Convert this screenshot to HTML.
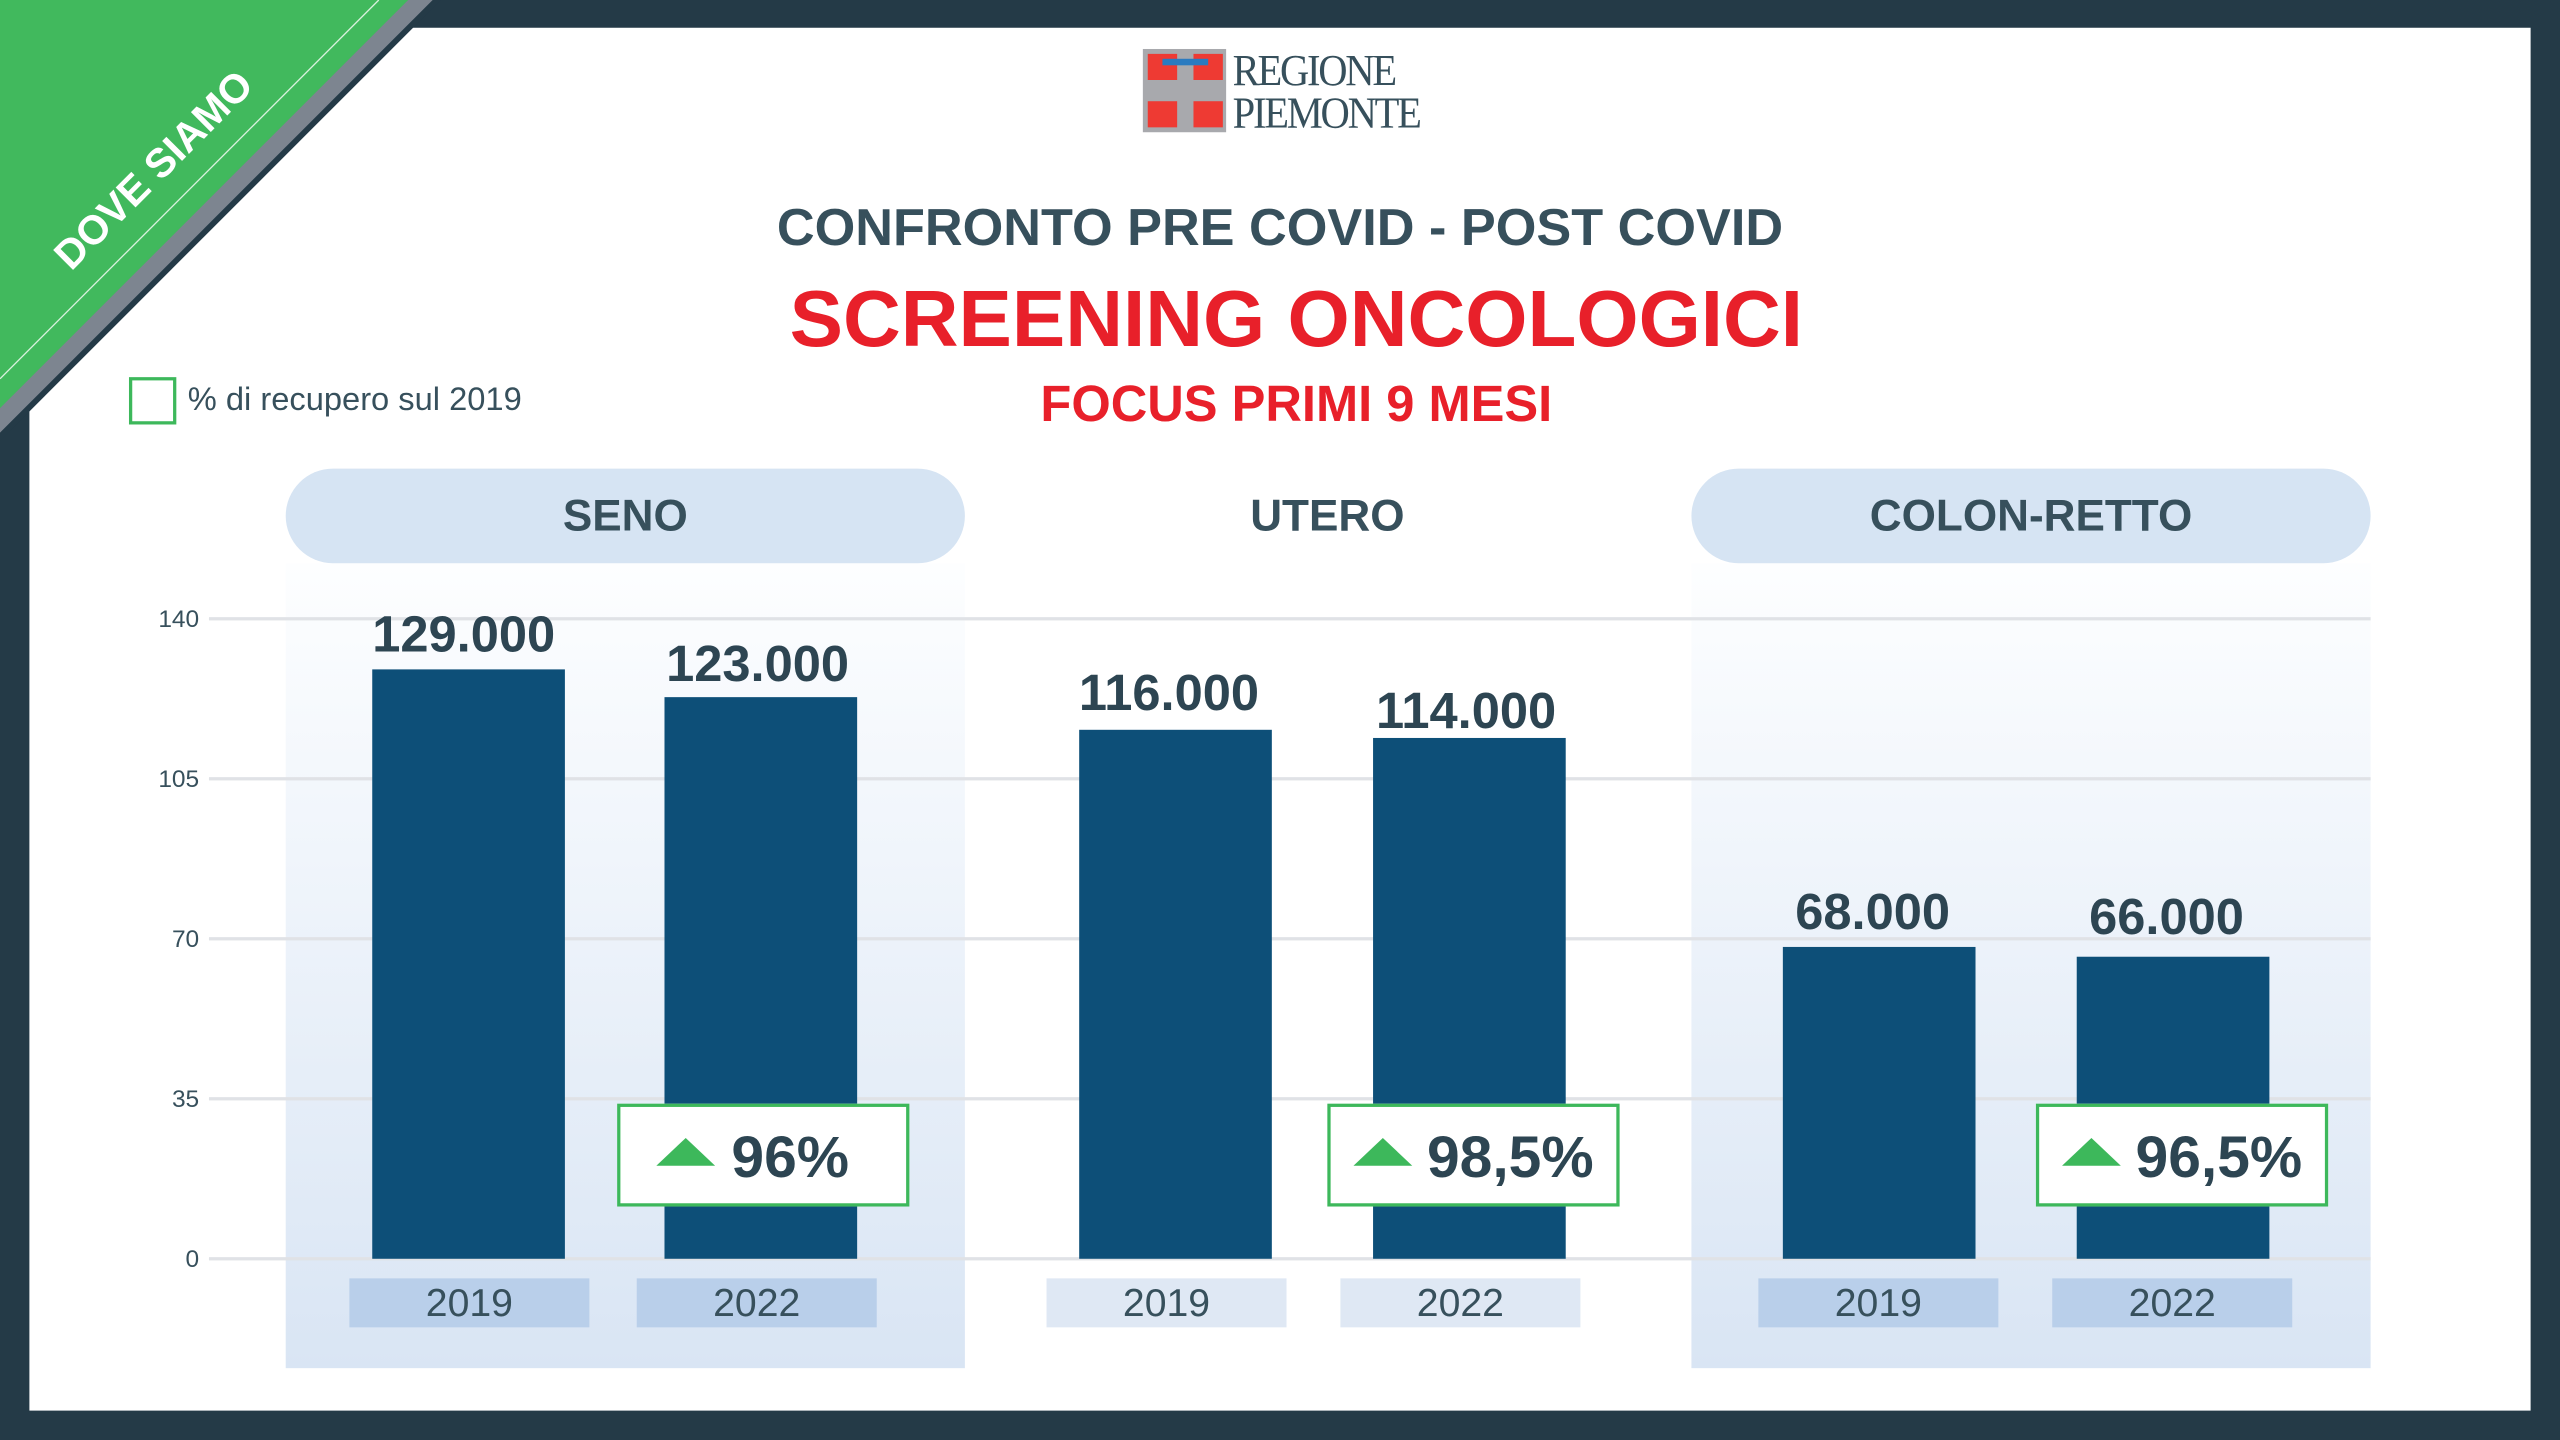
<!DOCTYPE html>
<html><head><meta charset="utf-8"><style>
html,body{margin:0;padding:0;width:2560px;height:1440px;overflow:hidden;background:#243a47;}
#s{position:absolute;left:0;top:0;width:1568px;height:882px;transform:scale(1.632653);transform-origin:0 0;font-family:"Liberation Sans",Arial,sans-serif;}
.a{position:absolute;}
.panel{left:18px;top:17px;width:1532px;height:847px;background:#fff;}
.t{color:#37505c;font-weight:bold;text-align:center;white-space:nowrap;}
.pill{background:#d6e4f3;border-radius:29px;height:58px;top:287px;line-height:58px;font-size:27px;}
.col{top:345px;height:493px;background:linear-gradient(#fdfeff,#d9e5f4);}
.grid{left:128px;width:1324px;height:2px;background:#e0e2e6;}
.yl{width:60px;left:62px;text-align:right;font-size:15px;color:#37505c;}
.bar{background:#0d4f78;width:118px;}
.val{width:200px;text-align:center;font-size:31px;font-weight:bold;color:#2d4552;}
.yr{top:783px;height:30px;width:147px;background:#b9cfea;text-align:center;line-height:31px;font-size:24px;color:#37505c;}
.pct{top:676px;width:175px;height:59px;background:#fff;border:2px solid #3db85b;box-sizing:content-box;}
.pct .tri{position:absolute;left:22px;top:19px;width:0;height:0;border-left:18px solid transparent;border-right:18px solid transparent;border-bottom:17px solid #3db85b;}
.pct .n{position:absolute;left:68px;top:10px;font-size:36px;font-weight:bold;color:#2d4552;white-space:nowrap;}
</style></head><body><div id="s">
<div class="a panel"></div>
<svg class="a" style="left:0;top:0" width="300" height="300">
<polygon points="0,0 270,0 0,270" fill="#243a47"/>
<polygon points="0,0 265,0 0,265" fill="#7d8590"/>
<polygon points="0,0 250,0 0,250" fill="#41b95d"/>
<line x1="232" y1="0" x2="0" y2="232" stroke="#fff" stroke-width="0.8" opacity="0.8"/>
<text x="100" y="110" transform="rotate(-45 100 110)" text-anchor="middle" fill="#fff" font-family="Liberation Sans,Arial,sans-serif" font-weight="bold" font-size="25">DOVE SIAMO</text>
</svg>
<div class="a" style="left:700px;top:30px;width:51px;height:51px;background:#a8a9ad;"></div>
<div class="a" style="left:703px;top:33px;width:18px;height:16px;background:#ee3a33;"></div>
<div class="a" style="left:731px;top:33px;width:18px;height:16px;background:#ee3a33;"></div>
<div class="a" style="left:703px;top:62px;width:18px;height:16px;background:#ee3a33;"></div>
<div class="a" style="left:731px;top:62px;width:18px;height:16px;background:#ee3a33;"></div>
<div class="a" style="left:712px;top:36px;width:28px;height:4px;background:#2a7bc0;"></div>
<div class="a" style="left:755px;top:30px;font-family:'Liberation Serif',serif;font-size:27px;line-height:26px;color:#37505c;letter-spacing:-1.5px;transform:scaleX(0.92);transform-origin:0 0;">REGIONE<br>PIEMONTE</div>
<div class="a t" style="left:384px;width:800px;top:121px;font-size:32px;">CONFRONTO PRE COVID - POST COVID</div>
<div class="a t" style="left:394px;width:800px;top:168px;font-size:49px;color:#e8202a;">SCREENING ONCOLOGICI</div>
<div class="a t" style="left:394px;width:800px;top:230px;font-size:31px;color:#e8202a;">FOCUS PRIMI 9 MESI</div>
<div class="a" style="left:79px;top:231px;width:25px;height:25px;border:2px solid #3db85b;"></div>
<div class="a" style="left:115px;top:234px;font-size:20px;color:#37505c;">% di recupero sul 2019</div>
<div class="a col" style="left:175px;width:416px;"></div>
<div class="a col" style="left:1036px;width:416px;"></div>
<div class="a pill t" style="left:175px;width:416px;">SENO</div>
<div class="a t" style="left:613px;width:400px;top:287px;line-height:58px;font-size:27px;">UTERO</div>
<div class="a pill t" style="left:1036px;width:416px;">COLON-RETTO</div>
<div class="a grid" style="top:378px"></div><div class="a grid" style="top:476px"></div><div class="a grid" style="top:574px"></div><div class="a grid" style="top:672px"></div><div class="a grid" style="top:770px"></div>
<div class="a yl" style="top:371px">140</div><div class="a yl" style="top:469px">105</div><div class="a yl" style="top:567px">70</div><div class="a yl" style="top:665px">35</div><div class="a yl" style="top:763px">0</div>
<div class="a bar" style="left:228px;top:410px;height:361px"></div>
<div class="a bar" style="left:407px;top:427px;height:344px"></div>
<div class="a bar" style="left:661px;top:447px;height:324px"></div>
<div class="a bar" style="left:841px;top:452px;height:319px"></div>
<div class="a bar" style="left:1092px;top:580px;height:191px"></div>
<div class="a bar" style="left:1272px;top:586px;height:185px"></div>
<div class="a val" style="left:184px;top:371px">129.000</div>
<div class="a val" style="left:364px;top:389px">123.000</div>
<div class="a val" style="left:616px;top:407px">116.000</div>
<div class="a val" style="left:798px;top:418px">114.000</div>
<div class="a val" style="left:1047px;top:541px">68.000</div>
<div class="a val" style="left:1227px;top:544px">66.000</div>
<div class="a yr" style="left:214px">2019</div><div class="a yr" style="left:390px">2022</div>
<div class="a yr" style="left:641px;background:#dfe8f4">2019</div><div class="a yr" style="left:821px;background:#dfe8f4">2022</div>
<div class="a yr" style="left:1077px">2019</div><div class="a yr" style="left:1257px">2022</div>
<div class="a pct" style="left:378px"><div class="tri"></div><div class="n">96%</div></div>
<div class="a pct" style="left:813px"><div class="tri" style="left:14px"></div><div class="n" style="left:59px">98,5%</div></div>
<div class="a pct" style="left:1247px"><div class="tri" style="left:14px"></div><div class="n" style="left:59px">96,5%</div></div>
</div></body></html>
